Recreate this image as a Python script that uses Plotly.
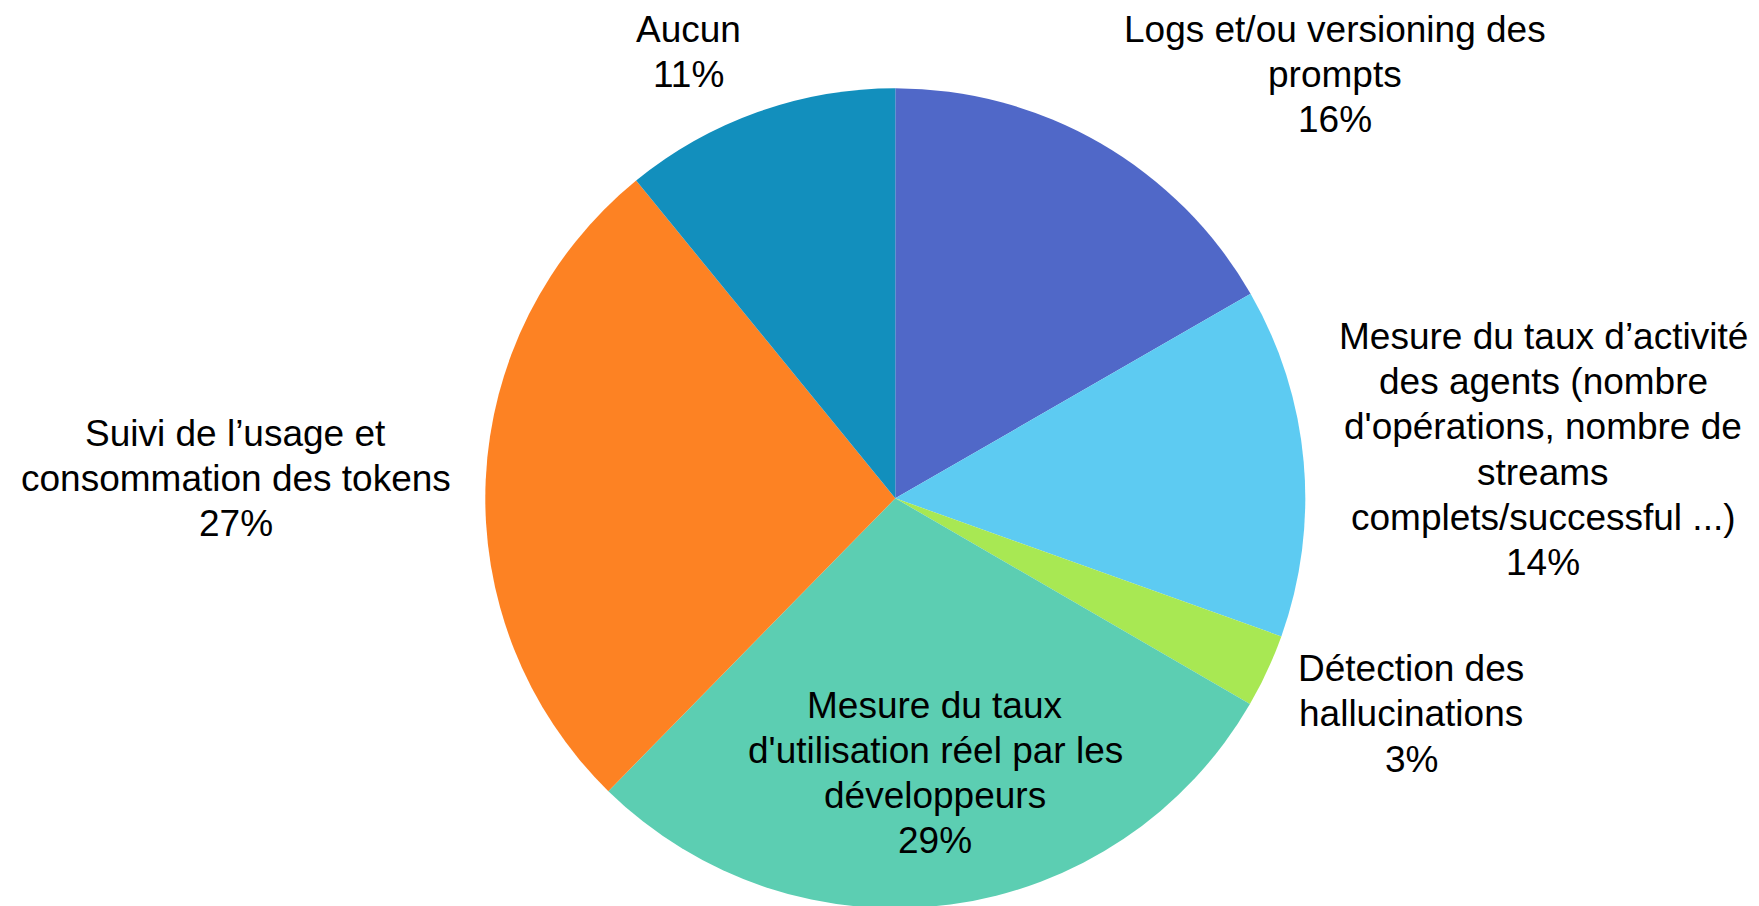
import plotly.graph_objects as go

# ---- data (clockwise from 12 o'clock) ----
categories = [
    "Logs et/ou versioning des prompts",
    "Mesure du taux d’activité des agents (nombre d'opérations, nombre de streams complets/successful ...)",
    "Détection des hallucinations",
    "Mesure du taux d'utilisation réel par les développeurs",
    "Suivi de l’usage et consommation des tokens",
    "Aucun",
]
# slice shares as drawn in the picture
shares = [16.7, 13.8, 2.9, 29.0, 26.8, 10.9]
# percentages printed on the labels
pct_labels = ["16%", "14%", "3%", "29%", "27%", "11%"]
# label line breaks as in the picture
label_lines = [
    ["Logs et/ou versioning des", "prompts"],
    ["Mesure du taux d’activité", "des agents (nombre", "d'opérations, nombre de", "streams", "complets/successful ...)"],
    ["Détection des", "hallucinations"],
    ["Mesure du taux", "d'utilisation réel par les", "développeurs"],
    ["Suivi de l’usage et", "consommation des tokens"],
    ["Aucun"],
]

# ---- style / layout ----
colors = ["#5068C8", "#5DCBF2", "#A8E853", "#5CCEB2", "#FD8223", "#128FBD"]
W, H = 1759, 906
OFF = 8  # default page body margin
FONT = "Liberation Sans, Arial, Helvetica, sans-serif"
FS = 37
LINE_H = 45.2
# label block anchors on the page: (x center px, y of first line center px)
label_anchor = [
    (1335, 29.5),
    (1543, 336.5),
    (1411, 668.6),
    (935, 705.3),
    (235.6, 433.0),
    (688, 29.5),
]

# pie centre and radius on the page
cx, cy, r = 895.3 - OFF, 498.3 - OFF, 410.0

fig = go.Figure(go.Pie(
    labels=categories,
    values=shares,
    sort=False,
    direction="clockwise",
    rotation=0,
    marker=dict(colors=colors, line=dict(width=0)),
    textinfo="none",
    hoverinfo="label+percent",
    showlegend=False,
    domain=dict(x=[(cx - r) / W, (cx + r) / W], y=[(H - cy - r) / H, (H - cy + r) / H]),
))

annotations = []
for lines, pct, (ax, ay) in zip(label_lines, pct_labels, label_anchor):
    for k, t in enumerate(lines + [pct]):
        y = ay + k * LINE_H - OFF
        annotations.append(dict(
            x=(ax - OFF) / W, y=1 - y / H, xref="paper", yref="paper",
            text=t, showarrow=False, xanchor="center", yanchor="middle",
            borderpad=0,
            font=dict(family=FONT, size=FS, color="#000000"),
        ))

fig.update_layout(
    width=W, height=H,
    margin=dict(l=0, r=0, t=0, b=0),
    paper_bgcolor="white", plot_bgcolor="white",
    annotations=annotations,
)

fig.write_html("out.html")
